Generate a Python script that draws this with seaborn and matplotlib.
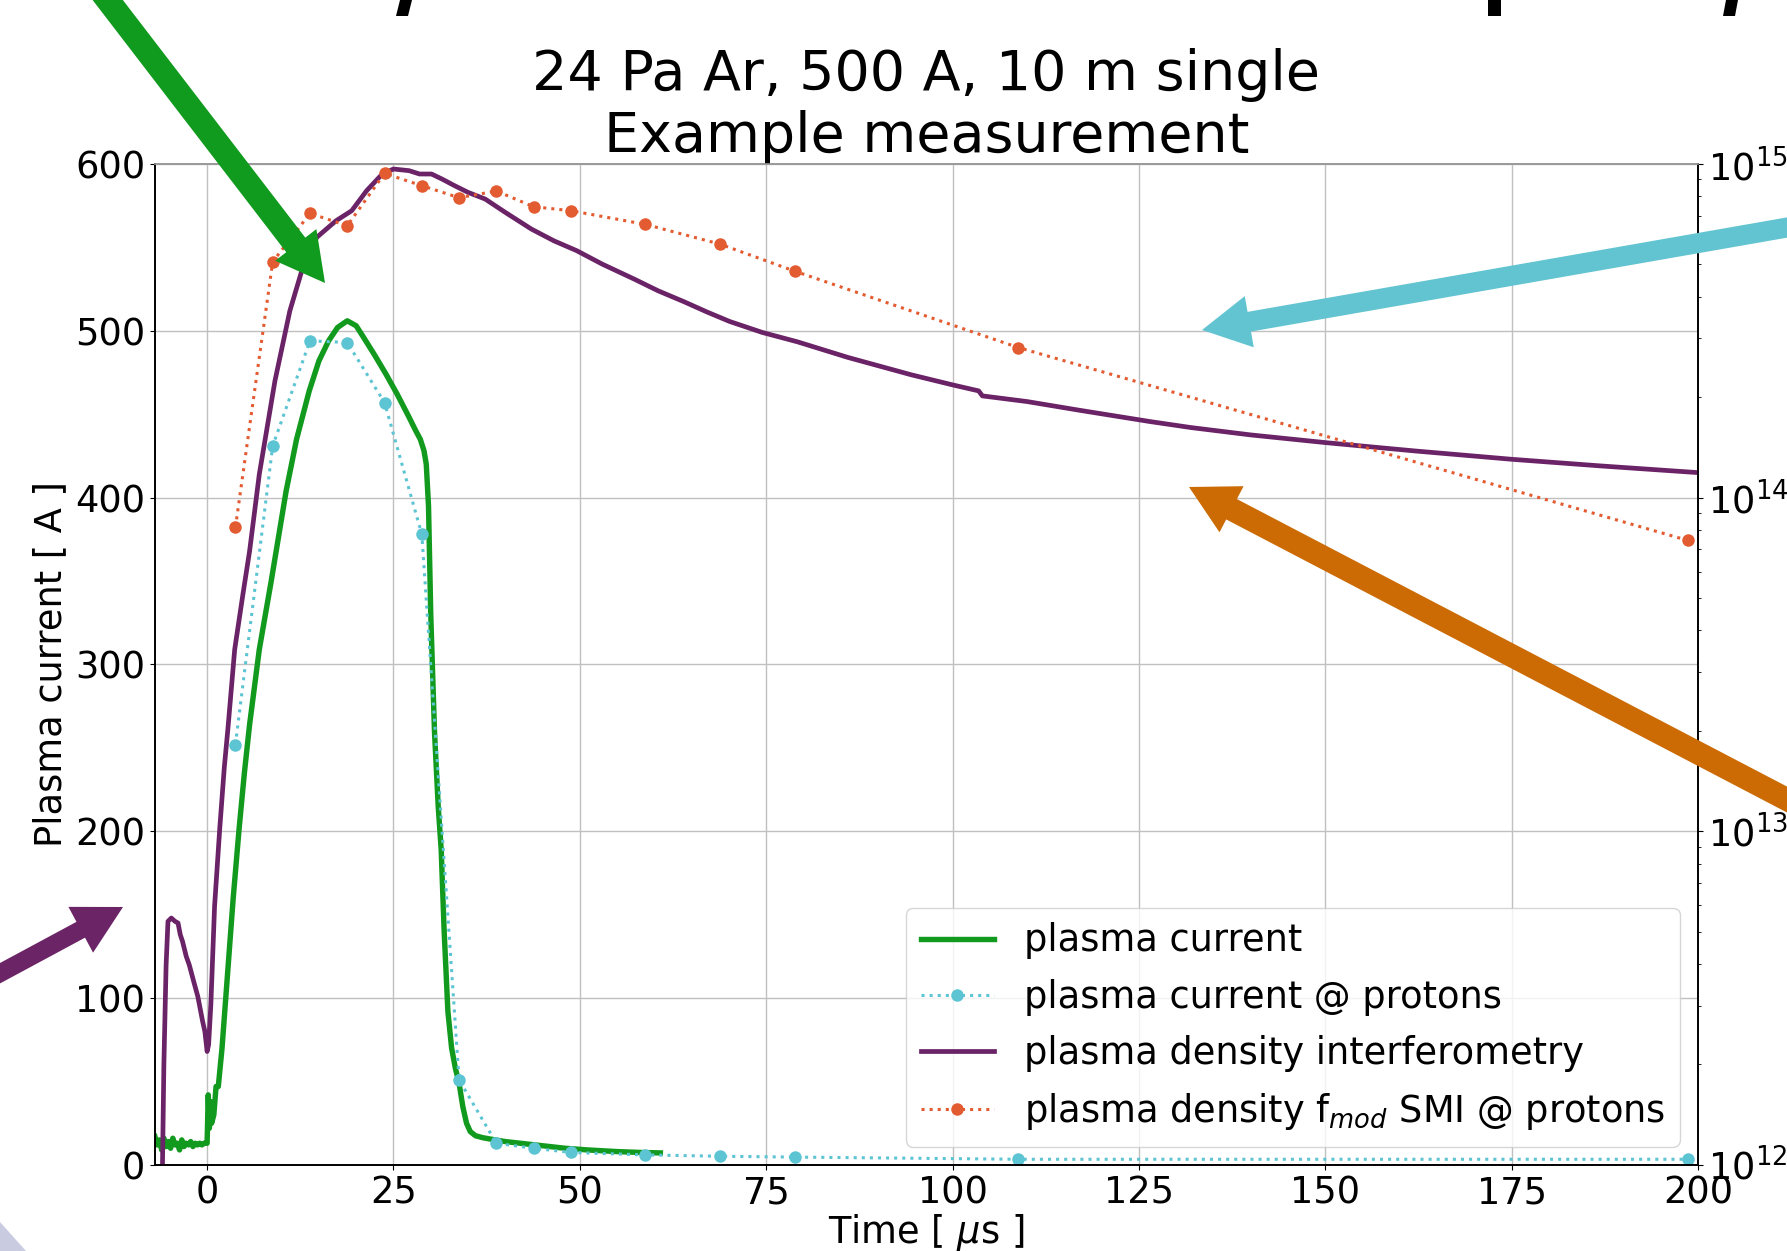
import matplotlib
matplotlib.use("Agg")
import matplotlib.pyplot as plt
import seaborn as sns
import numpy as np
from matplotlib.patches import FancyArrow, Polygon

# --- data ---
# plasma current (green, left axis, A)
t_current = [-7.0, -6.7, -6.4, -6.1, -5.8, -5.5, -5.2, -4.9, -4.6, -4.3, -4.0, -3.7,
             -3.4, -3.1, -2.8, -2.5, -2.2, -1.9, -1.6, -1.3, -1.0, -0.7, -0.4, -0.1,
             0.0, 0.15, 0.3, 0.45, 0.6, 0.9, 1.2, 1.5, 2.0, 2.5, 3.0, 3.5, 4.3, 5.0,
             5.7, 7.0, 8.6, 10.6, 12.0, 13.7, 15.0, 16.3, 17.5, 18.8, 20.0, 21.0,
             22.4, 24.0, 25.5, 27.0, 28.0, 28.6, 29.1, 29.4, 29.7, 30.0, 30.5, 31.0,
             31.4, 31.8, 32.3, 32.8, 33.3, 33.8, 34.3, 34.8, 35.3, 36.0, 37.0, 38.0,
             40.0, 42.0, 45.0, 48.0, 51.0, 55.0, 58.0, 60.8]
current = [17, 12, 15, 9, 16, 11, 14, 10, 16, 12, 13, 9,
           15, 11, 13, 12, 14, 11, 13, 12, 13, 12, 13, 13,
           13, 42, 22, 38, 25, 30, 47, 47, 70, 100, 130, 160, 202, 235,
           264, 309, 350, 404, 435, 464, 482, 494, 502, 506, 503, 496,
           486, 474, 462, 449, 440, 435, 428, 420, 395, 330, 260, 215,
           189, 140, 92, 70, 58, 49, 35, 25, 20, 17.5, 16.3, 15.5,
           14, 13, 11.5, 10, 9, 8, 7.5, 7.2]

# samples at proton times (cyan = current, orange = density f_mod SMI)
t_protons = [3.8, 8.8, 13.8, 18.8, 23.8, 28.8, 33.8, 38.8, 43.8, 48.8, 58.8, 68.8,
             78.8, 108.8, 198.6]
current_protons = [252, 431, 494, 493, 457, 378, 51, 13, 10, 7.5, 6, 5.2, 4.7, 3.4, 3.4]
log_density_smi = [13.911, 14.707, 14.852, 14.815, 14.972, 14.935, 14.899, 14.919,
                   14.872, 14.86, 14.819, 14.76, 14.679, 14.45, 13.872]

# plasma density interferometry (purple, right axis, log10 of density)
t_interf = [-6.05, -5.8, -5.5, -5.25, -4.8, -4.3, -3.9, -3.6, -3.3, -2.8, -2.4, -1.8,
            -1.25, -0.9, -0.6, -0.3, 0.0, 0.2, 0.5, 1.0, 1.7, 2.3, 2.8, 3.7, 4.8, 5.7,
            7.0, 9.1, 11.1, 12.7, 14.7, 17.3, 19.4, 21.4, 23.5, 25.0, 27.1, 28.5, 30.1,
            31.5, 33.2, 35.0, 37.3, 40.0, 43.5, 46.5, 49.6, 53.0, 57.3, 60.5, 64.0,
            67.0, 70.1, 74.5, 79.2, 86.0, 94.5, 100.0, 103.5, 104.0, 110.0, 117.0,
            126.5, 132.0, 140.0, 150.0, 162.0, 175.0, 187.0, 200.0]
log_density_interf = [11.90, 12.30, 12.60, 12.73, 12.74, 12.73, 12.725, 12.69, 12.67,
                      12.625, 12.60, 12.55, 12.505, 12.465, 12.43, 12.40, 12.34, 12.36,
                      12.48, 12.775, 13.01, 13.19, 13.31, 13.545, 13.71, 13.84, 14.07,
                      14.35, 14.56, 14.68, 14.78, 14.83, 14.86, 14.92, 14.97, 14.985,
                      14.98, 14.97, 14.97, 14.955, 14.935, 14.915, 14.895, 14.855,
                      14.805, 14.77, 14.74, 14.70, 14.655, 14.62, 14.587, 14.557,
                      14.528, 14.495, 14.467, 14.42, 14.368, 14.338, 14.32, 14.305,
                      14.288, 14.262, 14.228, 14.21, 14.188, 14.165, 14.14, 14.115,
                      14.095, 14.075]

x_ticks = [0, 25, 50, 75, 100, 125, 150, 175, 200]
y_ticks = [0, 100, 200, 300, 400, 500, 600]

GREEN = "#119a1d"
CYAN = "#5cc4d2"
PURPLE = "#6b2367"
ORANGE = "#e35b30"

FS = 26.5

fig = plt.figure(figsize=(17.87, 12.51), dpi=100)
fig.subplots_adjust(left=0.0867, right=0.9502, bottom=0.0688, top=0.8689)
ax1 = fig.add_subplot(111)
ax2 = ax1.twinx()

sns.lineplot(x=t_current, y=current, ax=ax1, color=GREEN, linewidth=3.9,
             estimator=None, errorbar=None, label="plasma current")
sns.lineplot(x=t_protons, y=current_protons, ax=ax1, color=CYAN, linewidth=2.2,
             linestyle=":", marker="o", markersize=9, markeredgewidth=0,
             markeredgecolor=CYAN, estimator=None, errorbar=None,
             label="plasma current @ protons")
sns.lineplot(x=t_interf, y=np.power(10.0, log_density_interf), ax=ax2, color=PURPLE,
             linewidth=3.4, estimator=None, errorbar=None,
             label="plasma density interferometry")
sns.lineplot(x=t_protons, y=np.power(10.0, log_density_smi), ax=ax2, color=ORANGE,
             linewidth=2.2, linestyle=":", marker="o", markersize=9,
             markeredgewidth=0, markeredgecolor=ORANGE, estimator=None, errorbar=None,
             label=r"plasma density f$_{mod}$ SMI @ protons")

for a in (ax1, ax2):
    if a.get_legend() is not None:
        a.get_legend().remove()

ax1.set_xlim(-7, 200)
ax1.set_ylim(0, 600)
ax1.set_xticks(x_ticks)
ax1.set_yticks(y_ticks)
ax2.set_yscale("log")
ax2.set_ylim(1e12, 1e15)

ax1.grid(True, color="#c0c0c0", linewidth=1.0)
ax1.set_axisbelow(True)
ax2.grid(False)

ax1.tick_params(labelsize=FS)
ax2.tick_params(labelsize=FS)
ax1.set_xlabel(r"Time [ $\mu$s ]", fontsize=FS, labelpad=0)
ax1.set_ylabel("Plasma current [ A ]", fontsize=FS)
ax2.set_ylabel("")
ax1.set_title("24 Pa Ar, 500 A, 10 m single\nExample measurement", fontsize=40, pad=2,
              linespacing=1.18)

for a in (ax1, ax2):
    for s in a.spines.values():
        s.set_linewidth(1.2)
ax2.spines["top"].set_color("#999999")
ax1.spines["top"].set_color("#999999")

h1, l1 = ax1.get_legend_handles_labels()
h2, l2 = ax2.get_legend_handles_labels()
ax2.legend(h1 + h2, l1 + l2, loc="lower right", fontsize=FS, handlelength=2.0,
           labelspacing=0.52)

# --- slide overlay: arrows and clipped fragments, in pixel coordinates ---
ov = fig.add_axes([0, 0, 1, 1])
ov.set_xlim(0, 1787)
ov.set_ylim(1251, 0)
ov.axis("off")
ov.set_zorder(10)

arrows = [
    # (tail x, tail y, tip x, tip y, shaft width, color)
    (77, -40, 325, 283, 24, "#109a1e"),
    (1830, 220, 1202, 330, 20, "#62c4d1"),
    (1830, 822, 1189, 487, 23, "#cc6a04"),
    (-20, 984, 123, 907, 18, "#6b2466"),
]
for x0, y0, x1, y1, w, c in arrows:
    ov.add_patch(FancyArrow(x0, y0, x1 - x0, y1 - y0, width=w, head_width=52,
                            head_length=48, length_includes_head=True,
                            color=c, linewidth=0))

fragments = [
    [(400, 0), (412, 0), (408, 16), (396, 16)],
    [(1488, 0), (1501, 0), (1501, 16), (1488, 16)],
    [(1726, 0), (1738, 0), (1735, 16), (1723, 16)],
]
for pts in fragments:
    ov.add_patch(Polygon(pts, closed=True, color="black", linewidth=0))
ov.add_patch(Polygon([(0, 1222), (26, 1251), (0, 1251)], closed=True,
                     color="#c9cce0", linewidth=0))

fig.savefig("out.png", dpi=100)
plt.close(fig)
